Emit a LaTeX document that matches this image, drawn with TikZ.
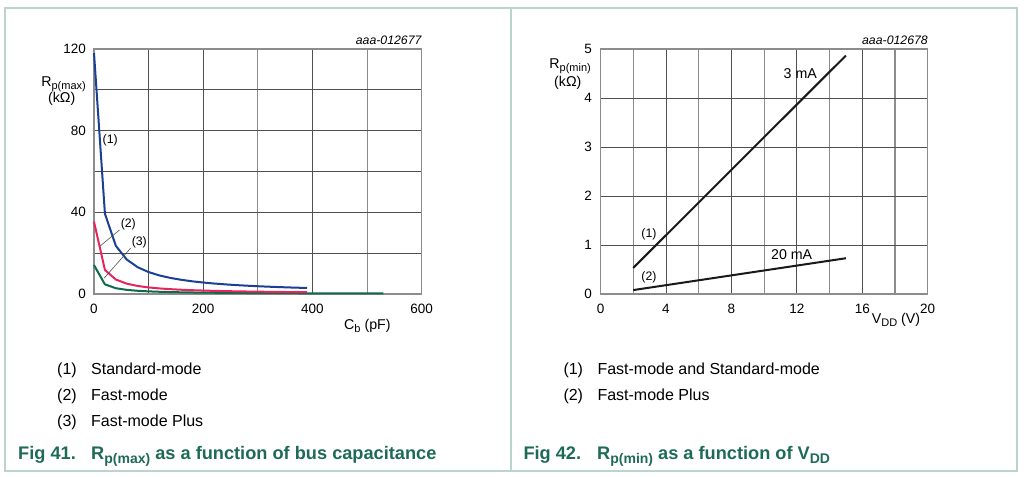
\documentclass[tikz,border=0pt]{standalone}
\usepackage{fontspec}
\setmainfont{Liberation Sans}
\definecolor{cblue}{HTML}{1B3F94}
\definecolor{cred}{HTML}{E8245C}
\definecolor{cgreen}{HTML}{0E6B4A}
\definecolor{capgreen}{HTML}{1E6B55}
\definecolor{panelc}{HTML}{BCD3CF}
\definecolor{gdark}{HTML}{505050}
\definecolor{glight}{HTML}{8C8C8C}
\newcommand\fs[1]{\fontsize{#1}{#1}\selectfont}
\newcommand\lowsub[3]{\raisebox{-#2}{\fs{#1}#3}}
\begin{document}
\begin{tikzpicture}[x=1pt,y=-1pt,
  panel/.style={draw=panelc,line width=1.2pt},
  griddark/.style={draw=gdark,line width=0.9pt},
  gridlight/.style={draw=glight,line width=1.1pt},
  frame/.style={draw=glight,line width=1.1pt},
  tick/.style={font=\fs{13.5},inner sep=0pt},
  axlabel/.style={font=\fs{14.2},inner sep=0pt},
  curvelabel/.style={font=\fs{12.3},inner sep=0pt},
  figid/.style={font=\fs{12.3}\itshape,inner sep=0pt},
  legend/.style={font=\fs{16},inner sep=0pt,anchor=base west},
  caption/.style={font=\fs{18.2}\bfseries,text=capgreen,inner sep=0pt,anchor=base west},
  curve/.style={line width=2pt,line join=round},
  leader/.style={draw=gdark,line width=0.6pt}]
\useasboundingbox (0,0) rectangle (1024,476);
\draw[panel] (5,8) rectangle (511,471);
\draw[panel] (511,8) rectangle (1017,471);

% ---------------- left chart ----------------
\begin{scope}[shift={(94,294)},x=0.54617pt,y=2.04167pt]
  \foreach \c/\s in {100/griddark,200/griddark,300/gridlight,400/griddark,500/gridlight}
    \draw[\s] (\c,0) -- (\c,120);
  \foreach \r in {20,40,...,100}
    \draw[griddark] (0,\r) -- (600,\r);
  \draw[frame] (0,0) rectangle (600,120);
  \draw[curve,cgreen] plot[samples at={0,20,...,520,530}] (\x,{120/(0.8473*(\x+10))});
  \draw[curve,cred] plot[samples at={0,20,...,380,390}] (\x,{300/(0.8473*(\x+10))});
  \draw[curve,cblue] plot[samples at={0,20,...,380,390}] (\x,{1000/(0.8473*(\x+10))});
  \foreach \r in {0,40,80,120}
    \node[tick,anchor=east,xshift=-8pt] (ly\r) at (0,\r) {\r};
  \foreach \c in {0,200,400,600}
    \node[tick,yshift=-15pt] (lx\c) at (\c,0) {\c};
\end{scope}
\node[figid,anchor=east] (idl) at (421.7,40) {aaa-012677};
\node[axlabel,anchor=base east] (ylabl) at (86,86.7) {R\lowsub{11}{3pt}{p(max)}};
\node[axlabel] (yunitl) at (61.7,99) {(kΩ)};
\node[axlabel,anchor=base west] (xlabl) at (344,329) {C\lowsub{11}{3pt}{b} (pF)};
\node[curvelabel] (c1) at (110.2,140.7) {(1)};
\node[curvelabel] (c2) at (128.3,224) {(2)};
\node[curvelabel] (c3) at (139.3,242.3) {(3)};
\coordinate (p2) at (99.3,246.7);
\coordinate (p3) at (104,278.3);
\draw[leader] (c2.south west) ++(-1,0) -- (p2);
\draw[leader] (c3.south west) ++(-1,0) -- (p3);

% ---------------- right chart ----------------
\begin{scope}[shift={(600.5,294)},x=16.36pt,y=49pt]
  \foreach \v/\s in {2/gridlight,4/griddark,6/gridlight,8/griddark,10/gridlight,12/griddark,14/gridlight,16/griddark,18/gridlight}
    \draw[\s] (\v,0) -- (\v,5);
  \foreach \r in {1,2,3,4}
    \draw[griddark] (0,\r) -- (20,\r);
  \draw[frame] (0,0) rectangle (20,5);
  \coordinate (a1) at (2,0.533);
  \coordinate (b1) at (15,4.867);
  \coordinate (a2) at (2,0.08);
  \coordinate (b2) at (15,0.73);
  \draw[curve,black!90] (a1) -- (b1);
  \draw[curve,black!90] (a2) -- (b2);
  \foreach \r in {0,1,...,5}
    \node[tick,anchor=east,xshift=-8.5pt] (ry\r) at (0,\r) {\r};
  \foreach \v in {0,4,8,12,16,20}
    \node[tick,yshift=-15pt] (rx\v) at (\v,0) {\v};
\end{scope}
\node[figid,anchor=east] (idr) at (928,40) {aaa-012678};
\node[axlabel,anchor=base east] (ylabr) at (591,69) {R\lowsub{11}{3pt}{p(min)}};
\node[axlabel] (yunitr) at (567.8,83) {(kΩ)};
\node[axlabel,anchor=base west] (xlabr) at (871.7,323.8) {V\lowsub{11}{3pt}{DD} (V)};
\node[axlabel] (ma3) at (800.3,73.3) {3 mA};
\node[axlabel] (ma20) at (791.7,255) {20 mA};
\node[curvelabel] (r1) at (649,234) {(1)};
\node[curvelabel] (r2) at (649,277) {(2)};

% ---------------- legends and captions ----------------
\node[legend] (ll1n) at (57,374.8) {(1)};
\node[legend] (ll1t) at (91,374.8) {Standard-mode};
\node[legend] (ll2n) at (57,400.1) {(2)};
\node[legend] (ll2t) at (91,400.1) {Fast-mode};
\node[legend] (ll3n) at (57,426.8) {(3)};
\node[legend] (ll3t) at (91,426.8) {Fast-mode Plus};
\node[caption] (capl1) at (18,459.2) {Fig 41.};
\node[caption] (capl2) at (91,459.2) {R\lowsub{14}{4.2pt}{p(max)} as a function of bus capacitance};

\node[legend] (rl1n) at (563.3,374.8) {(1)};
\node[legend] (rl1t) at (597.3,374.8) {Fast-mode and Standard-mode};
\node[legend] (rl2n) at (563.3,400.1) {(2)};
\node[legend] (rl2t) at (597.3,400.1) {Fast-mode Plus};
\node[caption] (capr1) at (523.3,459.2) {Fig 42.};
\node[caption] (capr2) at (597,459.2) {R\lowsub{14}{4.2pt}{p(min)} as a function of V\lowsub{14}{4.2pt}{DD}};
\end{tikzpicture}
\end{document}
